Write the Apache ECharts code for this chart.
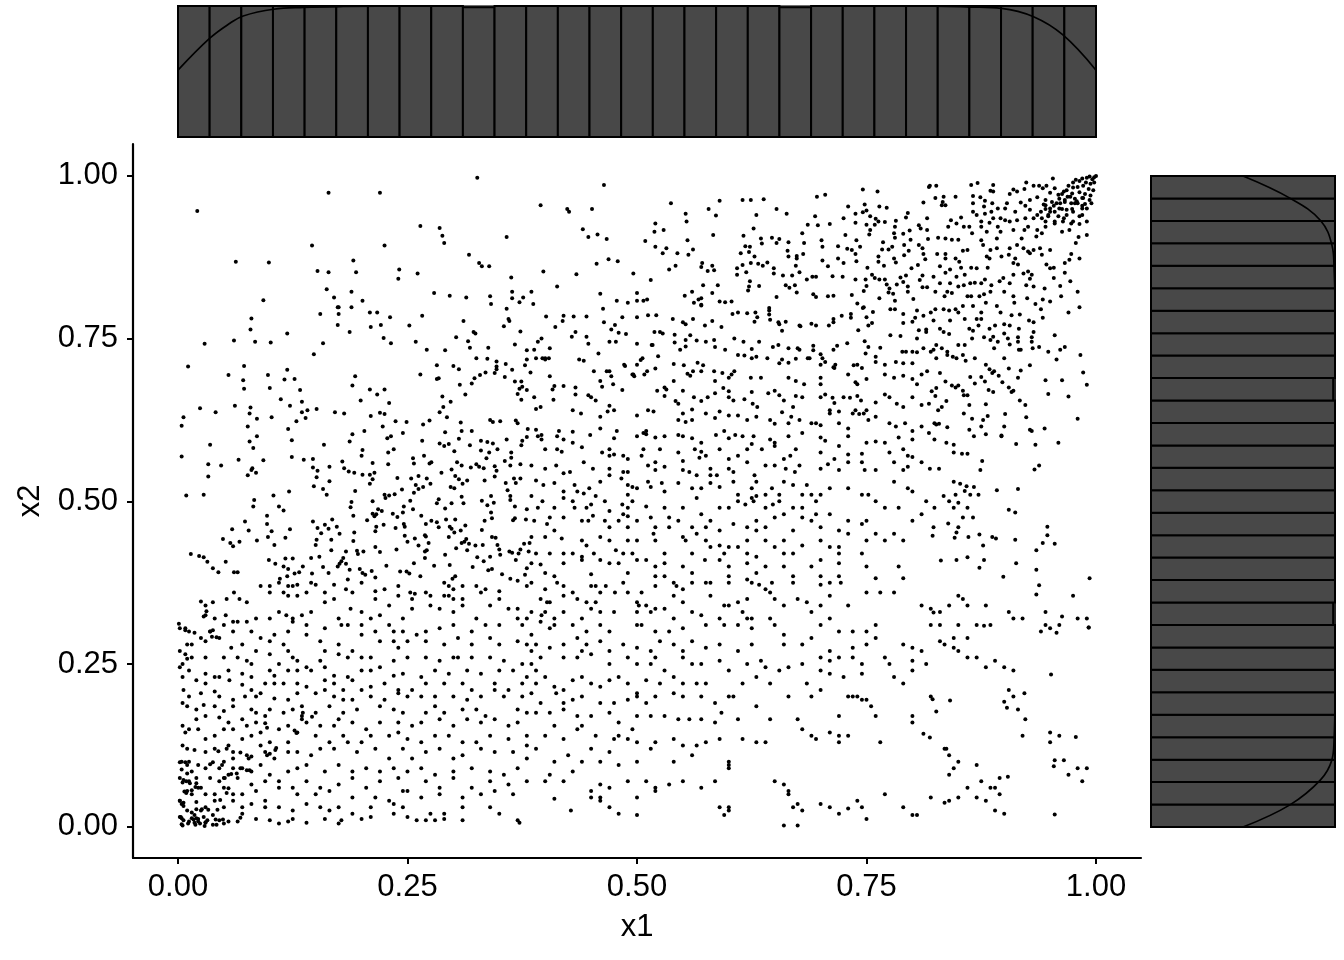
<!DOCTYPE html>
<html><head><meta charset="utf-8">
<script src="https://cdn.jsdelivr.net/npm/echarts@6/dist/echarts.min.js"></script>
<style>html,body{margin:0;padding:0;background:#fff}#c{width:1344px;height:960px}</style></head>
<body><div id="c"></div>
<script>
const tickValues=[0,0.25,0.5,0.75,1];
const binCountTop=[100,100,100,100,100,100,100,100,100,99,100,100,100,100,100,100,100,100,100,99,100,100,100,100,100,100,100,100,100];
const binCountRight=[100,100,100,100,100,100,100,100,100,99,100,100,100,100,100,100,100,100,100,99,100,100,100,100,100,100,100,100,100];
const densityTop=[[0,51],[0.035,75.6],[0.057,87],[0.071,92.4],[0.104,97.5],[0.137,98.9],[0.18,99.6],[0.25,100],[0.8,100],[0.863,99.2],[0.897,98.2],[0.932,91.8],[0.964,77.9],[1,51]];
const densityRight=[[50,0],[75.5,0.034],[92,0.072],[98.3,0.103],[99.5,0.134],[100,0.2],[100,0.8],[99.5,0.86],[98.4,0.893],[92,0.932],[75.5,0.966],[50,1]];
const pointsTop=[[.021,.946],[.164,.974],[.22,.974],[.326,.997],[.264,.923],[.285,.92],[.288,.908],[.29,.897],[.358,.906],[.146,.893],[.225,.893],[.063,.868],[.099,.867],[.191,.87],[.317,.879],[.328,.866],[.331,.861],[.339,.861],[.152,.854],[.164,.852],[.194,.852],[.241,.856],[.24,.842],[.261,.85],[.363,.844],[.162,.826],
[.464,.986],[.395,.955],[.424,.949],[.426,.945],[.451,.949],[.537,.958],[.553,.942],[.554,.93],[.578,.949],[.59,.962],[.586,.939],[.615,.963],[.624,.963],[.638,.964],[.652,.949],[.663,.942],[.63,.94],[.696,.968],[.705,.971],[.746,.979],[.762,.976],[.818,.983],[.73,.953],[.748,.956],[.812,.959],[.764,.953],[.772,.951],[.75,.947],[.746,.944],[.738,.942],[.725,.935],[.694,.938],[.754,.938],[.795,.943],[.793,.936],[.816,.935],[.76,.934],[.738,.928],[.763,.93],[.77,.929],[.782,.931],[.75,.925],[.759,.925],[.686,.925],[.697,.924],[.71,.926],[.781,.922],[.807,.924],[.809,.919],[.816,.917],[.754,.917],[.797,.916],[.78,.912],[.79,.911],[.753,.91],[.727,.909],[.781,.905],[.68,.912],[.441,.918],[.457,.91],[.447,.906],[.467,.903],[.52,.927],[.519,.914],[.529,.917],[.509,.9],[.555,.901],[.583,.909],[.616,.908],[.627,.919],[.635,.904],[.647,.905],[.655,.903],[.665,.898],[.652,.897],[.636,.896],[.682,.897],[.701,.901],[.702,.891],[.719,.892],[.739,.901],[.768,.898],[.798,.902],[.817,.903],[.52,.891],[.532,.889],[.528,.881],[.544,.881],[.561,.887],[.556,.879],[.618,.892],[.623,.891],[.613,.881],[.622,.883],[.628,.876],[.729,.888],[.734,.886],[.743,.891],[.767,.887],[.774,.887],[.778,.891],[.791,.894],[.796,.885],[.807,.894],[.811,.889],[.664,.885],[.665,.876],[.674,.877],[.674,.873],[.681,.88],[.738,.88],[.763,.876],[.791,.878],[.812,.88],[.814,.872],[.469,.872],[.479,.869],[.456,.865],[.702,.87],[.719,.873],[.725,.866],[.739,.869],[.763,.868],[.78,.873],[.782,.867],[.708,.861],[.769,.862],[.806,.863],[.799,.858],[.398,.853],[.434,.849],[.496,.85],[.515,.84],[.413,.83],[.542,.862],[.535,.856],[.571,.866],[.57,.86],[.577,.854],[.582,.862],[.584,.855],[.609,.858],[.609,.848],[.615,.863],[.624,.866],[.632,.865],[.637,.862],[.642,.867],[.649,.858],[.649,.85],[.619,.852],[.659,.847],[.669,.847],[.673,.862],[.677,.852],[.685,.841],[.691,.845],[.695,.845],[.713,.846],[.724,.845],[.751,.859],[.756,.848],[.759,.843],[.738,.841],[.749,.841],[.764,.841],[.77,.841],[.787,.844],[.793,.847],[.79,.837],[.811,.847],[.808,.84],[.572,.832],[.588,.832],[.623,.838],[.622,.83],[.633,.831],[.662,.832],[.666,.828],[.672,.832],[.75,.831],[.772,.833],[.783,.833],[.775,.827],[.795,.83],[.811,.829],[.816,.829],
[1,1],[.998,.998],[.996,.995],[.993,.999],[.99,.997],[.998,.99],[.994,.988],[.989,.99],[.985,.996],[.982,.992],[.978,.994],[.975,.99],[.986,.985],[.992,.98],[.997,.978],[.98,.983],[.975,.982],[.97,.985],[.968,.978],[.974,.973],[.982,.975],[.988,.972],[.994,.97],[.985,.966],[.977,.965],[.969,.968],[.963,.972],[.96,.965],[.966,.96],[.973,.958],[.98,.958],[.988,.957],[.957,.958],[.952,.96],[.96,.95],[.968,.948],[.99,.95],[.995,.958],[.975,.945],[.955,.945],[.95,.95],[.945,.955],[.948,.94],[.94,.945],[.985,.94],[.975,.93],[.965,.935],[.955,.93],[.99,.93],[.945,.93],
[.826,.985],[.819,.985],[.864,.986],[.871,.989],[.888,.986],[.924,.99],[.953,.996],[.932,.985],[.938,.985],[.888,.976],[.885,.977],[.906,.972],[.91,.979],[.914,.976],[.922,.98],[.942,.981],[.946,.985],[.955,.981],[.959,.971],[.965,.976],[.866,.969],[.874,.967],[.879,.962],[.847,.968],[.834,.968],[.825,.966],[.833,.96],[.832,.955],[.836,.955],[.887,.958],[.903,.958],[.918,.959],[.923,.954],[.928,.963],[.936,.967],[.945,.963],[.95,.974],[.972,.968],[.979,.961],[.986,.966],[.993,.963],[.985,.954],[.977,.958],[.966,.963],[.961,.958],[.954,.954],[.943,.956],[.866,.958],[.866,.945],[.87,.94],[.878,.953],[.879,.942],[.886,.945],[.893,.95],[.901,.95],[.912,.945],[.928,.948],[.936,.94],[.945,.949],[.95,.945],[.963,.949],[.974,.949],[.985,.95],[.968,.94],[.959,.938],[.948,.938],[.941,.935],[.932,.935],[.923,.935],[.914,.932],[.906,.93],[.901,.932],[.896,.935],[.888,.935],[.875,.93],[.853,.936],[.842,.932],[.884,.928],[.893,.922],[.926,.922],[.936,.917],[.945,.922],[.955,.927],[.964,.93],[.973,.927],[.982,.938],[.982,.926],[.848,.927],[.839,.922],[.856,.922],[.862,.922],[.875,.922],[.865,.912],[.881,.914],[.896,.914],[.91,.917],[.922,.917],[.941,.912],[.963,.914],[.971,.917],[.99,.909],[.981,.906],[.978,.897],[.828,.905],[.836,.904],[.843,.902],[.85,.902],[.875,.901],[.877,.894],[.892,.904],[.919,.904],[.935,.907],[.885,.886],[.892,.889],[.906,.889],[.914,.894],[.921,.889],[.926,.884],[.939,.889],[.941,.879],[.95,.886],[.855,.885],[.86,.886],[.836,.88],[.827,.88],[.847,.873],[.836,.873],[.851,.868],[.881,.876],[.884,.873],[.897,.876],[.905,.879],[.912,.873],[.91,.866],[.915,.864],[.928,.881],[.932,.886],[.946,.864],[.973,.88],[.982,.873],[.971,.871],[.966,.866],[.95,.858],[.954,.859],[.83,.861],[.841,.856],[.853,.859],[.864,.859],[.87,.858],[.882,.859],[.823,.845],[.836,.851],[.848,.845],[.857,.848],[.863,.835],[.868,.836],[.875,.835],[.879,.841],[.886,.832],[.895,.838],[.899,.843],[.906,.835],[.91,.848],[.921,.85],[.926,.853],[.93,.848],[.928,.842],[.924,.832],[.932,.83],[.944,.827],[.954,.843],[.961,.831],[.966,.851],[.972,.838],[.841,.835],[.83,.835],[.85,.83],[.856,.832]];
const pointsMiddle=[[.093,.809],[.08,.781],[.079,.764],[.029,.742],[.061,.747],[.084,.745],[.101,.744],[.119,.758],[.155,.788],[.17,.813],[.174,.798],[.175,.798],[.175,.788],[.189,.798],[.201,.808],[.189,.822],[.174,.771],[.187,.76],[.209,.79],[.217,.79],[.231,.783],[.221,.771],[.21,.768],[.224,.751],[.232,.743],[.252,.77],[.266,.785],[.259,.745],[.271,.733],[.291,.732],[.279,.82],[.296,.816],[.314,.813],[.34,.815],[.341,.803],[.364,.822],[.364,.812],[.372,.806],[.376,.813],[.358,.796],[.36,.78],[.361,.777],[.355,.769],[.311,.777],[.322,.76],[.324,.758],[.373,.761],[.303,.752],[.316,.746],[.318,.736],[.367,.741],[.338,.736],[.38,.732],[.148,.726],[.158,.743],[.011,.707],[.072,.708],[.055,.694],[.071,.686],[.072,.673],[.098,.694],[.1,.674],[.119,.702],[.116,.687],[.127,.688],[.133,.671],[.112,.657],[.135,.653],[.122,.647],[.135,.637],[.141,.64],[.151,.642],[.139,.628],[.129,.623],[.12,.611],[.124,.594],[.159,.587],[.124,.568],[.137,.564],[.325,.72],[.337,.719],[.347,.715],[.347,.707],[.347,.703],[.345,.697],[.357,.711],[.364,.702],[.378,.709],[.38,.718],[.335,.698],[.329,.694],[.323,.689],[.32,.681],[.307,.679],[.356,.691],[.367,.684],[.374,.684],[.375,.676],[.372,.673],[.38,.671],[.37,.665],[.374,.656],[.313,.664],[.282,.709],[.3,.708],[.306,.703],[.264,.695],[.284,.689],[.282,.688],[.193,.692],[.19,.678],[.209,.672],[.225,.672],[.217,.664],[.199,.655],[.23,.651],[.288,.661],[.297,.653],[.289,.645],[.285,.637],[.293,.629],[.024,.643],[.041,.637],[.062,.647],[.079,.644],[.078,.635],[.086,.627],[.102,.629],[.006,.629],[.004,.616],[.076,.615],[.086,.6],[.035,.587],[.078,.592],[.082,.582],[.004,.569],[.066,.564],[.093,.563],[.033,.557],[.047,.555],[.033,.538],[.081,.551],[.08,.548],[.085,.544],[.076,.54],[.171,.637],[.181,.635],[.21,.631],[.22,.636],[.225,.634],[.237,.623],[.249,.622],[.267,.618],[.274,.624],[.223,.615],[.245,.605],[.203,.608],[.19,.603],[.187,.592],[.232,.6],[.228,.597],[.266,.593],[.235,.58],[.229,.575],[.201,.579],[.2,.57],[.268,.57],[.256,.566],[.257,.558],[.229,.557],[.212,.559],[.34,.625],[.343,.622],[.351,.623],[.368,.624],[.37,.62],[.308,.621],[.309,.608],[.291,.606],[.32,.608],[.306,.596],[.381,.611],[.38,.599],[.375,.593],[.374,.586],[.358,.595],[.285,.589],[.29,.585],[.295,.588],[.318,.586],[.33,.593],[.337,.591],[.343,.589],[.348,.58],[.33,.578],[.339,.575],[.301,.577],[.363,.575],[.363,.567],[.336,.566],[.356,.562],[.373,.557],[.362,.555],[.147,.565],[.147,.552],[.152,.547],[.165,.553],[.179,.561],[.181,.551],[.186,.546],[.192,.544],[.201,.541],[.209,.541],[.214,.544],[.212,.534],[.209,.527],[.151,.537],[.165,.531],[.148,.523],[.158,.519],[.162,.51],[.193,.516],[.276,.56],[.274,.558],[.287,.544],[.298,.549],[.304,.56],[.309,.555],[.319,.552],[.325,.557],[.328,.553],[.333,.551],[.345,.554],[.347,.547],[.345,.538],[.302,.539],[.306,.534],[.31,.527],[.315,.532],[.334,.532],[.357,.528],[.366,.535],[.373,.535],[.368,.528],[.239,.536],[.254,.535],[.262,.539],[.271,.535],[.259,.525],[.275,.527],[.267,.522],[.262,.519],[.257,.513],[.244,.518],[.236,.511],[.23,.509],[.225,.51],[.226,.505],[.297,.522],[.301,.52],[.009,.509],[.028,.51],[.083,.502],[.104,.509],[.121,.515],[.082,.492],[.11,.492],[.115,.486],[.097,.478],[.073,.469],[.097,.465],[.059,.457],[.077,.455],[.102,.454],[.122,.457],[.098,.445],[.117,.444],[.049,.442],[.057,.436],[.067,.438],[.06,.431],[.086,.44],[.105,.433],[.014,.419],[.023,.416],[.028,.414],[.032,.407],[.052,.407],[.038,.397],[.044,.391],[.061,.391],[.065,.391],[.099,.41],[.106,.404],[.117,.412],[.125,.412],[.115,.4],[.12,.396],[.136,.4],[.145,.413],[.154,.415],[.127,.389],[.132,.391],[.146,.389],[.158,.399],[.164,.39],[.119,.385],[.111,.381],[.189,.499],[.188,.491],[.212,.5],[.191,.478],[.206,.471],[.212,.481],[.216,.48],[.218,.488],[.222,.485],[.214,.477],[.234,.481],[.239,.476],[.245,.483],[.246,.492],[.253,.501],[.256,.488],[.265,.478],[.27,.465],[.276,.47],[.282,.468],[.282,.497],[.284,.503],[.291,.489],[.298,.497],[.309,.507],[.311,.497],[.331,.501],[.341,.508],[.344,.498],[.337,.494],[.341,.483],[.342,.474],[.334,.47],[.362,.502],[.362,.508],[.359,.517],[.367,.492],[.38,.488],[.367,.474],[.365,.471],[.379,.472],[.147,.469],[.16,.464],[.168,.472],[.173,.461],[.164,.458],[.152,.459],[.156,.451],[.176,.45],[.151,.441],[.167,.441],[.15,.433],[.192,.452],[.191,.439],[.167,.425],[.183,.423],[.195,.424],[.202,.423],[.196,.419],[.215,.43],[.22,.422],[.238,.426],[.215,.454],[.216,.461],[.224,.464],[.237,.459],[.246,.465],[.247,.461],[.247,.447],[.258,.443],[.269,.448],[.27,.446],[.273,.436],[.25,.438],[.262,.432],[.271,.425],[.269,.423],[.269,.413],[.291,.418],[.292,.472],[.302,.472],[.296,.461],[.298,.458],[.301,.452],[.308,.455],[.313,.463],[.284,.46],[.295,.445],[.312,.438],[.309,.436],[.314,.442],[.317,.435],[.324,.432],[.303,.428],[.315,.425],[.332,.433],[.331,.456],[.342,.445],[.346,.444],[.348,.433],[.35,.426],[.351,.418],[.361,.423],[.364,.421],[.373,.426],[.371,.42],[.377,.435],[.383,.436],[.382,.423],[.326,.414],[.34,.415],[.333,.408],[.368,.41],[.321,.399],[.338,.394],[.342,.396],[.353,.388],[.362,.381],[.38,.397],[.378,.387],[.18,.413],[.178,.408],[.176,.404],[.174,.4],[.183,.404],[.187,.395],[.198,.396],[.201,.39],[.204,.387],[.211,.393],[.215,.383],[.227,.401],[.242,.392],[.249,.392],[.252,.389],[.257,.405],[.264,.385],[.279,.401],[.296,.402],[.302,.385],[.299,.381],
[.385,.822],[.387,.803],[.401,.784],[.42,.785],[.431,.784],[.445,.784],[.411,.768],[.429,.753],[.433,.76],[.445,.753],[.396,.75],[.392,.745],[.447,.742],[.458,.727],[.405,.735],[.437,.718],[.388,.733],[.39,.72],[.404,.72],[.4,.72],[.46,.819],[.5,.82],[.552,.816],[.56,.822],[.582,.82],[.621,.824],[.652,.814],[.674,.821],[.692,.818],[.695,.814],[.708,.815],[.714,.816],[.734,.817],[.747,.823],[.764,.812],[.774,.821],[.779,.819],[.795,.822],[.801,.811],[.478,.808],[.49,.805],[.5,.808],[.507,.808],[.511,.81],[.562,.805],[.567,.81],[.57,.802],[.57,.812],[.57,.801],[.59,.807],[.596,.806],[.603,.807],[.463,.796],[.5,.783],[.484,.783],[.512,.786],[.521,.786],[.539,.78],[.55,.775],[.553,.772],[.561,.78],[.574,.77],[.582,.777],[.592,.768],[.604,.788],[.62,.789],[.61,.79],[.628,.776],[.631,.783],[.629,.79],[.645,.779],[.644,.797],[.644,.793],[.644,.787],[.654,.775],[.662,.776],[.655,.772],[.658,.762],[.678,.769],[.677,.77],[.69,.773],[.695,.77],[.714,.78],[.714,.775],[.709,.77],[.723,.785],[.733,.788],[.733,.782],[.741,.763],[.75,.783],[.756,.774],[.746,.797],[.74,.804],[.747,.798],[.752,.77],[.776,.795],[.781,.795],[.757,.791],[.781,.808],[.79,.788],[.805,.793],[.803,.782],[.812,.785],[.79,.774],[.8,.776],[.807,.763],[.815,.764],[.805,.75],[.815,.76],[.419,.777],[.464,.775],[.476,.771],[.48,.759],[.488,.757],[.472,.764],[.477,.745],[.47,.745],[.519,.76],[.525,.76],[.528,.758],[.541,.756],[.541,.744],[.516,.74],[.517,.74],[.553,.748],[.558,.755],[.565,.747],[.575,.745],[.584,.748],[.5,.742],[.506,.72],[.487,.708],[.523,.723],[.547,.733],[.553,.738],[.585,.737],[.596,.733],[.606,.75],[.616,.745],[.625,.734],[.633,.745],[.648,.737],[.654,.74],[.665,.735],[.675,.735],[.677,.733],[.692,.739],[.692,.732],[.7,.726],[.714,.733],[.718,.739],[.729,.743],[.748,.746],[.752,.737],[.765,.736],[.749,.727],[.76,.722],[.776,.755],[.787,.754],[.789,.73],[.793,.73],[.805,.729],[.812,.735],[.8,.73],[.61,.725],[.617,.724],[.625,.72],[.63,.722],[.642,.72],[.658,.718],[.655,.712],[.665,.713],[.673,.719],[.688,.72],[.686,.72],[.702,.72],[.7,.71],[.705,.714],[.714,.706],[.716,.71],[.715,.705],[.736,.709],[.745,.705],[.74,.71],[.76,.714],[.77,.71],[.782,.714],[.79,.712],[.8,.712],[.397,.72],[.442,.716],[.4,.718],[.47,.7],[.486,.71],[.504,.717],[.453,.7],[.467,.7],[.5,.71],[.54,.711],[.551,.709],[.566,.713],[.572,.709],[.57,.7],[.584,.7],[.606,.7],[.593,.697],[.603,.695],[.561,.7],[.558,.693],[.52,.704],[.495,.695],[.472,.692],[.497,.692],[.511,.7],[.508,.695],[.496,.695],[.405,.692],[.384,.698],[.46,.685],[.474,.68],[.54,.685],[.555,.696],[.585,.685],[.6,.69],[.624,.69],[.665,.69],[.635,.69],[.7,.69],[.682,.68],[.673,.685],[.7,.68],[.74,.68],[.75,.688],[.78,.69],[.79,.693],[.8,.688],[.805,.68],[.77,.695],[.81,.695],[.816,.7],[.738,.683],[.73,.695],[.433,.675],[.41,.677],[.408,.672],[.42,.677],[.433,.664],[.447,.663],[.462,.676],[.484,.671],[.53,.675],[.522,.67],[.532,.672],[.55,.67],[.53,.662],[.542,.654],[.562,.66],[.577,.66],[.585,.666],[.594,.674],[.6,.669],[.6,.66],[.57,.654],[.625,.668],[.65,.67],[.655,.663],[.617,.657],[.605,.655],[.626,.65],[.631,.645],[.643,.666],[.66,.655],[.673,.662],[.67,.645],[.68,.66],[.7,.66],[.705,.664],[.713,.659],[.725,.66],[.715,.651],[.71,.64],[.71,.635],[.72,.638],[.732,.659],[.74,.662],[.744,.655],[.738,.64],[.742,.634],[.75,.64],[.76,.652],[.77,.664],[.775,.66],[.783,.65],[.79,.645],[.8,.66],[.81,.648],[.818,.65],[.388,.66],[.395,.645],[.39,.642],[.409,.656],[.43,.64],[.439,.635],[.45,.66],[.455,.655],[.47,.647],[.475,.64],[.468,.638],[.46,.63],[.5,.632],[.512,.64],[.518,.638],[.545,.65],[.55,.635],[.56,.641],[.545,.625],[.553,.622],[.56,.625],[.575,.635],[.59,.638],[.585,.628],[.6,.632],[.61,.632],[.62,.625],[.63,.63],[.658,.637],[.645,.625],[.65,.619],[.668,.63],[.665,.62],[.677,.625],[.69,.62],[.695,.62],[.7,.617],[.72,.62],[.73,.612],[.735,.635],[.747,.635],[.752,.625],[.76,.63],[.775,.62],[.782,.615],[.792,.62],[.8,.608],[.81,.615],[.818,.605],[.39,.61],[.392,.6],[.396,.602],[.396,.595],[.415,.608],[.413,.6],[.42,.595],[.43,.607],[.449,.602],[.46,.612],[.475,.597],[.478,.608],[.5,.6],[.507,.605],[.51,.608],[.51,.603],[.53,.6],[.525,.58],[.52,.598],[.545,.602],[.55,.6],[.56,.597],[.57,.59],[.595,.608],[.586,.602],[.6,.597],[.607,.602],[.615,.6],[.627,.6],[.625,.588],[.645,.595],[.65,.59],[.665,.6],[.673,.58],[.68,.605],[.7,.598],[.705,.593],[.72,.585],[.73,.6],[.75,.59],[.76,.592],[.77,.59],[.785,.598],[.79,.58],[.8,.595],[.4,.58],[.413,.58],[.418,.576],[.43,.59],[.44,.583],[.462,.575],[.47,.58],[.47,.57],[.475,.572],[.485,.57],[.49,.565],[.507,.58],[.505,.57],[.52,.56],[.545,.575],[.563,.58],[.57,.576],[.568,.567],[.575,.57],[.59,.58],[.61,.57],[.6,.565],[.62,.58],[.636,.58],[.65,.585],[.667,.57],[.66,.565],[.7,.575],[.715,.565],[.73,.572],[.73,.56],[.745,.573],[.775,.575],[.78,.56],[.795,.57],[.8,.568],[.81,.56],[.385,.555],[.4,.55],[.412,.555],[.42,.543],[.427,.545],[.442,.56],[.452,.55],[.47,.55],[.485,.545],[.49,.545],[.512,.555],[.52,.548],[.53,.553],[.55,.562],[.55,.548],[.557,.545],[.565,.54],[.58,.54],[.58,.55],[.587,.54],[.6,.55],[.605,.545],[.62,.56],[.628,.54],[.64,.555],[.65,.555],[.662,.55],[.672,.545],[.677,.555],[.7,.55],[.708,.557],[.72,.548],[.745,.56],[.748,.548],[.76,.548],[.79,.548],[.795,.553],[.398,.525],[.39,.532],[.41,.528],[.42,.515],[.432,.525],[.435,.515],[.442,.512],[.448,.52],[.455,.508],[.46,.53],[.47,.54],[.483,.535],[.49,.525],[.49,.51],[.495,.522],[.5,.52],[.512,.53],[.515,.522],[.527,.528],[.53,.515],[.545,.528],[.56,.52],[.57,.52],[.58,.528],[.59,.522],[.605,.53],[.61,.51],[.625,.52],[.63,.53],[.63,.508],[.625,.505],[.64,.51],[.647,.52],[.655,.51],[.66,.53],[.67,.525],[.68,.51],[.685,.525],[.69,.51],[.7,.51],[.71,.52],[.73,.52],[.745,.51],[.752,.51],[.78,.53],[.795,.52],[.8,.515],[.385,.508],[.397,.5],[.392,.49],[.41,.49],[.42,.505],[.43,.5],[.432,.49],[.445,.49],[.45,.495],[.465,.5],[.47,.485],[.484,.495],[.49,.49],[.495,.5],[.485,.48],[.49,.477],[.51,.492],[.53,.49],[.55,.49],[.565,.505],[.57,.48],[.58,.47],[.59,.49],[.6,.49],[.61,.5],[.618,.495],[.627,.5],[.64,.49],[.648,.495],[.655,.5],[.67,.49],[.68,.49],[.68,.475],[.695,.5],[.71,.48],[.73,.47],[.745,.465],[.75,.47],[.76,.5],[.77,.49],[.785,.49],[.8,.47],[.81,.48],[.815,.5],[.388,.47],[.402,.465],[.405,.475],[.42,.475],[.44,.47],[.447,.47],[.452,.478],[.465,.47],[.47,.46],[.48,.47],[.49,.46],[.5,.47],[.515,.475],[.52,.46],[.535,.475],[.535,.46],[.545,.47],[.56,.46],[.565,.45],[.575,.46],[.59,.455],[.605,.465],[.62,.46],[.63,.47],[.63,.455],[.64,.46],[.65,.475],[.66,.48],[.67,.455],[.69,.47],[.7,.46],[.695,.48],[.72,.455],[.73,.45],[.77,.44],[.78,.45],[.385,.445],[.4,.445],[.41,.455],[.418,.443],[.44,.44],[.445,.432],[.46,.445],[.47,.44],[.49,.44],[.5,.44],[.518,.45],[.52,.44],[.55,.445],[.553,.44],[.575,.44],[.58,.43],[.59,.432],[.6,.43],[.62,.44],[.64,.44],[.66,.44],[.68,.432],[.7,.44],[.71,.43],[.72,.43],[.75,.44],[.76,.45],[.79,.44],[.39,.42],[.405,.42],[.42,.42],[.43,.42],[.44,.415],[.453,.42],[.46,.41],[.477,.425],[.485,.42],[.495,.42],[.5,.41],[.53,.42],[.56,.42],[.574,.41],[.595,.42],[.61,.43],[.62,.42],[.63,.415],[.65,.43],[.66,.42],[.67,.42],[.7,.41],[.72,.42],[.745,.42],[.385,.405],[.395,.403],[.42,.405],[.44,.41],[.47,.405],[.48,.405],[.51,.41],[.52,.4],[.53,.405],[.55,.4],[.59,.41],[.6,.4],[.62,.405],[.64,.4],[.66,.4],[.69,.4],[.72,.405],[.75,.4],[.785,.4],[.4,.39],[.41,.385],[.45,.388],[.49,.39],[.52,.385],[.53,.385],[.56,.39],[.6,.385],[.63,.39],[.67,.385],[.7,.385],[.72,.385],[.76,.382],[.79,.382],
[.825,.822],[.838,.822],[.835,.815],[.843,.82],[.86,.815],[.864,.815],[.873,.815],[.878,.818],[.885,.822],[.9,.822],[.911,.805],[.91,.815],[.925,.812],[.934,.803],[.942,.81],[.95,.807],[.962,.815],[.98,.822],[.982,.798],[.97,.79],[.847,.795],[.82,.79],[.825,.795],[.834,.795],[.84,.793],[.85,.79],[.855,.8],[.866,.8],[.875,.79],[.88,.805],[.892,.8],[.896,.79],[.908,.786],[.917,.787],[.927,.778],[.942,.782],[.94,.795],[.823,.778],[.841,.778],[.857,.78],[.87,.78],[.875,.78],[.866,.762],[.872,.77],[.89,.77],[.9,.772],[.906,.77],[.9,.758],[.916,.765],[.932,.775],[.932,.76],[.955,.755],[.83,.765],[.834,.76],[.84,.757],[.862,.765],[.878,.752],[.884,.765],[.888,.753],[.904,.75],[.915,.752],[.93,.752],[.915,.745],[.93,.745],[.826,.74],[.832,.735],[.838,.73],[.85,.74],[.857,.74],[.855,.725],[.865,.75],[.885,.748],[.893,.745],[.906,.741],[.889,.735],[.82,.73],[.823,.733],[.826,.72],[.838,.725],[.844,.722],[.848,.72],[.858,.716],[.868,.72],[.9,.72],[.916,.733],[.918,.733],[.931,.735],[.938,.737],[.948,.73],[.961,.733],[.966,.737],[.957,.718],[.983,.725],[.88,.71],[.884,.703],[.889,.7],[.887,.697],[.905,.704],[.918,.701],[.928,.709],[.986,.698],[.83,.697],[.836,.684],[.843,.678],[.85,.678],[.847,.675],[.863,.691],[.875,.691],[.879,.684],[.894,.693],[.898,.683],[.905,.675],[.915,.69],[.945,.686],[.963,.686],[.99,.679],[.821,.669],[.826,.674],[.855,.67],[.856,.663],[.86,.663],[.868,.681],[.883,.671],[.888,.668],[.908,.668],[.91,.67],[.948,.665],[.97,.661],[.825,.662],[.837,.654],[.832,.645],[.828,.64],[.862,.648],[.88,.649],[.917,.655],[.923,.648],[.856,.635],[.865,.627],[.877,.625],[.882,.631],[.901,.634],[.924,.629],[.824,.62],[.826,.618],[.829,.619],[.838,.614],[.867,.6],[.897,.6],[.88,.603],[.875,.615],[.862,.61],[.9,.615],[.928,.61],[.93,.608],[.944,.612],[.98,.627],[.824,.595],[.837,.59],[.845,.587],[.854,.573],[.897,.601],[.913,.588],[.959,.59],[.934,.587],[.86,.573],[.845,.575],[.876,.562],[.829,.55],[.845,.53],[.819,.55],[.852,.527],[.859,.523],[.867,.522],[.874,.548],[.892,.517],[.915,.519],[.933,.549],[.938,.555],[.857,.516],[.834,.508],[.84,.5],[.847,.51],[.85,.498],[.863,.51],[.872,.51],[.86,.49],[.824,.49],[.845,.49],[.823,.46],[.855,.475],[.866,.475],[.85,.46],[.861,.445],[.905,.487],[.912,.483],[.947,.461],[.947,.448],[.942,.436],[.955,.435],[.891,.443],[.887,.445],[.912,.441],[.873,.449],[.839,.466],[.848,.452],[.846,.444],[.822,.447],[.877,.432],[.935,.425],[.848,.41],[.831,.409],[.86,.414],[.878,.41],[.913,.405],[.935,.395],[.873,.398],[.899,.384],[.938,.371],[.993,.382]];
const pointsLow=[[.001,.312],[.008,.305],[.025,.346],[.075,.345],[.03,.34],[.038,.345],[.053,.35],[.09,.37],[.061,.36],[.067,.35],[.1,.37],[.11,.375],[.12,.37],[.125,.37],[.13,.372],[.145,.375],[.15,.372],[.17,.372],[.185,.38],[.2,.375],[.215,.362],[.225,.365],[.24,.37],[.253,.36],[.258,.358],[.27,.36],[.29,.375],[.295,.37],[.3,.365],[.31,.37],[.325,.37],[.335,.365],[.35,.362],[.37,.378],[.38,.37],[.1,.36],[.115,.36],[.12,.355],[.13,.355],[.14,.36],[.16,.36],[.17,.35],[.183,.365],[.19,.36],[.215,.35],[.24,.355],[.255,.35],[.275,.355],[.29,.355],[.295,.355],[.3,.35],[.31,.35],[.33,.36],[.35,.35],[.03,.325],[.04,.32],[.052,.325],[.06,.315],[.065,.315],[.075,.315],[.085,.32],[.1,.32],[.11,.33],[.118,.325],[.125,.32],[.135,.325],[.145,.33],[.16,.345],[.175,.32],[.188,.335],[.2,.33],[.22,.325],[.23,.34],[.245,.32],[.255,.335],[.275,.34],[.285,.335],[.3,.33],[.31,.34],[.325,.32],[.34,.34],[.36,.335],[.37,.335],[.38,.32],[.05,.31],[.06,.3],[.08,.3],[.09,.29],[.105,.295],[.12,.3],[.125,.315],[.14,.31],[.16,.305],[.178,.31],[.185,.31],[.2,.31],[.21,.32],[.23,.31],[.235,.3],[.245,.3],[.27,.3],[.285,.305],[.3,.31],[.32,.3],[.335,.31],[.35,.31],[.37,.32],[.375,.31],[.002,.305],[.008,.302],[.012,.3],[.018,.298],[.035,.3],[.045,.29],[.03,.285],[.025,.29],[.01,.28],[.015,.28],[.07,.28],[.085,.27],[.1,.285],[.115,.28],[.12,.27],[.14,.295],[.155,.285],[.16,.27],[.175,.28],[.19,.27],[.2,.295],[.215,.3],[.22,.285],[.235,.285],[.24,.275],[.25,.285],[.26,.295],[.27,.285],[.29,.28],[.305,.29],[.32,.28],[.34,.29],[.35,.28],[.37,.285],[.38,.28],[.002,.27],[.008,.265],[.01,.258],[.015,.26],[.005,.25],[.03,.26],[.05,.26],[.058,.275],[.065,.26],[.075,.255],[.08,.25],[.1,.265],[.11,.25],[.125,.26],[.13,.255],[.14,.245],[.155,.255],[.175,.265],[.185,.26],[.2,.26],[.21,.26],[.235,.255],[.25,.26],[.27,.26],[.285,.255],[.3,.26],[.305,.26],[.32,.26],[.34,.26],[.355,.255],[.375,.25],[.002,.245],[.012,.24],[.005,.23],[.03,.235],[.045,.23],[.055,.24],[.07,.235],[.08,.23],[.1,.24],[.105,.232],[.12,.24],[.13,.24],[.145,.24],[.16,.245],[.17,.232],[.185,.23],[.2,.24],[.21,.24],[.22,.245],[.235,.232],[.245,.235],[.265,.23],[.28,.24],[.295,.235],[.315,.24],[.33,.235],[.35,.24],[.365,.24],[.38,.23],[.02,.225],[.03,.22],[.04,.23],[.056,.225],[.07,.218],[.08,.21],[.095,.22],[.105,.22],[.115,.22],[.13,.22],[.14,.215],[.16,.225],[.17,.22],[.18,.21],[.19,.225],[.21,.215],[.225,.22],[.24,.21],[.255,.21],[.27,.22],[.29,.22],[.31,.22],[.32,.21],[.345,.22],[.36,.21],[.375,.22],[.006,.21],[.012,.2],[.025,.205],[.04,.208],[.045,.2],[.06,.195],[.073,.2],[.085,.2],[.09,.205],[.105,.197],[.12,.195],[.13,.205],[.15,.205],[.16,.21],[.17,.2],[.18,.195],[.19,.195],[.2,.21],[.21,.2],[.225,.195],[.24,.205],[.25,.2],[.265,.2],[.28,.2],[.3,.2],[.315,.195],[.33,.2],[.345,.21],[.355,.2],[.375,.2],[.005,.19],[.01,.185],[.02,.18],[.028,.187],[.04,.185],[.05,.178],[.06,.185],[.08,.18],[.085,.175],[.1,.18],[.115,.175],[.125,.18],[.135,.185],[.15,.175],[.165,.185],[.18,.175],[.195,.18],[.22,.185],[.235,.18],[.245,.175],[.27,.175],[.28,.185],[.29,.175],[.31,.18],[.325,.18],[.335,.17],[.37,.18],[.38,.175],[.02,.165],[.03,.17],[.045,.168],[.055,.16],[.07,.165],[.075,.155],[.085,.16],[.095,.17],[.11,.15],[.12,.155],[.135,.165],[.14,.16],[.155,.155],[.17,.155],[.175,.165],[.19,.16],[.205,.15],[.22,.16],[.24,.16],[.255,.155],[.265,.16],[.285,.165],[.3,.155],[.315,.165],[.33,.16],[.345,.165],[.36,.155],[.37,.16],[.005,.155],[.012,.15],[.008,.145],[.022,.15],[.03,.135],[.04,.14],[.05,.15],[.06,.15],[.07,.135],[.08,.14],[.09,.145],[.1,.13],[.12,.13],[.13,.145],[.15,.14],[.165,.13],[.18,.14],[.185,.13],[.2,.13],[.21,.14],[.23,.14],[.24,.145],[.25,.135],[.265,.13],[.28,.14],[.295,.14],[.31,.13],[.325,.13],[.34,.14],[.36,.135],[.38,.14],[.005,.125],[.01,.12],[.018,.118],[.03,.115],[.04,.12],[.055,.125],[.06,.115],[.075,.11],[.09,.125],[.095,.115],[.105,.105],[.12,.115],[.13,.115],[.145,.11],[.155,.12],[.17,.12],[.195,.115],[.215,.12],[.23,.105],[.245,.12],[.255,.105],[.27,.115],[.285,.12],[.3,.105],[.31,.11],[.33,.12],[.345,.115],[.365,.115],[.38,.105],[.004,.1],[.01,.095],[.015,.085],[.022,.095],[.03,.09],[.045,.09],[.05,.1],[.06,.09],[.07,.09],[.08,.085],[.09,.095],[.1,.08],[.12,.085],[.13,.09],[.14,.095],[.16,.085],[.175,.095],[.19,.085],[.205,.09],[.22,.085],[.235,.09],[.25,.085],[.265,.09],[.28,.08],[.3,.085],[.32,.09],[.34,.085],[.355,.08],[.37,.09],[.002,.075],[.005,.068],[.012,.07],[.02,.075],[.025,.06],[.035,.075],[.045,.07],[.05,.075],[.065,.075],[.08,.065],[.095,.07],[.11,.07],[.125,.06],[.14,.07],[.155,.06],[.175,.065],[.19,.075],[.205,.06],[.22,.07],[.24,.075],[.25,.055],[.27,.07],[.285,.06],[.3,.075],[.32,.06],[.34,.07],[.36,.065],[.38,.07],[.01,.055],[.015,.05],[.022,.06],[.03,.05],[.04,.05],[.05,.06],[.06,.05],[.07,.05],[.085,.055],[.095,.04],[.11,.06],[.13,.05],[.15,.05],[.165,.055],[.19,.045],[.215,.045],[.23,.04],[.245,.055],[.265,.045],[.285,.05],[.31,.045],[.33,.05],[.345,.055],[.365,.05],[.002,.04],[.004,.035],[.006,.032],[.02,.038],[.03,.03],[.04,.04],[.05,.03],[.06,.04],[.07,.03],[.08,.035],[.095,.03],[.11,.03],[.125,.025],[.14,.035],[.155,.03],[.165,.025],[.175,.03],[.21,.03],[.235,.035],[.245,.03],[.275,.02],[.29,.02],[.31,.03],[.34,.03],[.35,.02],[.01,.025],[.015,.022],[.018,.018],[.022,.012],[.025,.025],[.028,.015],[.032,.01],[.038,.018],[.045,.01],[.006,.01],[.003,.015],[.004,.004],[.012,.008],[.018,.006],[.024,.005],[.03,.006],[.042,.003],[.05,.005],[.055,.008],[.068,.014],[.065,.008],[.07,.02],[.085,.012],[.1,.01],[.11,.005],[.12,.008],[.125,.012],[.14,.006],[.16,.012],[.175,.005],[.178,.01],[.19,.02],[.2,.012],[.21,.015],[.235,.02],[.25,.015],[.26,.01],[.27,.01],[.28,.01],[.29,.012],[.31,.01],[.37,.01],[.372,.006],
[.385,.375],[.4,.365],[.395,.35],[.405,.345],[.413,.375],[.42,.37],[.43,.36],[.42,.355],[.45,.37],[.455,.37],[.466,.37],[.46,.36],[.476,.36],[.485,.375],[.49,.36],[.505,.36],[.52,.37],[.54,.375],[.543,.37],[.55,.365],[.56,.375],[.575,.375],[.58,.375],[.6,.375],[.62,.38],[.625,.375],[.633,.372],[.647,.375],[.67,.375],[.64,.365],[.645,.36],[.675,.35],[.685,.345],[.62,.35],[.65,.35],[.61,.345],[.7,.372],[.71,.375],[.722,.375],[.73,.34],[.402,.345],[.445,.345],[.45,.335],[.455,.345],[.5,.345],[.502,.34],[.52,.335],[.54,.355],[.55,.345],[.58,.355],[.595,.34],[.6,.34],[.615,.33],[.625,.32],[.66,.34],[.71,.355],[.75,.36],[.765,.36],[.78,.36],[.85,.355],[.855,.35],[.935,.357],[.975,.355],[.385,.33],[.4,.33],[.396,.325],[.41,.32],[.42,.33],[.435,.35],[.44,.32],[.46,.33],[.475,.33],[.5,.33],[.5,.31],[.51,.34],[.515,.33],[.53,.335],[.54,.32],[.56,.33],[.57,.325],[.59,.32],[.62,.32],[.645,.32],[.69,.33],[.7,.34],[.71,.32],[.75,.3],[.76,.31],[.395,.315],[.41,.31],[.405,.305],[.43,.31],[.445,.3],[.46,.31],[.47,.3],[.505,.31],[.52,.3],[.535,.3],[.55,.305],[.575,.31],[.595,.31],[.61,.31],[.625,.305],[.65,.31],[.66,.295],[.7,.31],[.72,.3],[.735,.3],[.735,.275],[.75,.28],[.76,.29],[.79,.28],[.8,.275],[.385,.295],[.39,.28],[.385,.27],[.405,.275],[.42,.28],[.435,.29],[.44,.27],[.445,.28],[.46,.285],[.47,.27],[.485,.28],[.5,.275],[.515,.27],[.525,.285],[.54,.28],[.55,.27],[.56,.285],[.575,.275],[.59,.28],[.61,.27],[.625,.28],[.66,.28],[.68,.28],[.69,.29],[.71,.27],[.72,.26],[.735,.26],[.745,.25],[.77,.26],[.775,.25],[.385,.25],[.395,.26],[.39,.24],[.42,.26],[.435,.26],[.45,.265],[.47,.25],[.49,.26],[.5,.25],[.515,.25],[.52,.26],[.53,.24],[.55,.26],[.56,.25],[.57,.25],[.59,.255],[.62,.25],[.635,.255],[.64,.245],[.655,.24],[.665,.245],[.68,.25],[.685,.22],[.7,.26],[.71,.255],[.7,.24],[.71,.235],[.725,.23],[.745,.235],[.78,.23],[.79,.22],[.39,.22],[.4,.23],[.41,.215],[.42,.21],[.43,.225],[.44,.23],[.45,.22],[.46,.215],[.47,.225],[.48,.23],[.49,.22],[.5,.205],[.51,.225],[.525,.22],[.54,.23],[.55,.22],[.565,.22],[.575,.22],[.6,.24],[.605,.2],[.615,.22],[.63,.23],[.645,.22],[.665,.2],[.69,.2],[.7,.21],[.73,.2],[.735,.2],[.74,.2],[.385,.205],[.395,.19],[.412,.205],[.42,.19],[.43,.195],[.44,.2],[.46,.19],[.475,.19],[.49,.195],[.5,.2],[.51,.19],[.52,.2],[.54,.205],[.55,.2],[.57,.2],[.585,.19],[.6,.2],[.61,.165],[.63,.185],[.645,.165],[.675,.165],[.68,.15],[.69,.14],[.695,.135],[.72,.14],[.72,.13],[.76,.17],[.765,.13],[.39,.175],[.405,.175],[.42,.18],[.435,.17],[.45,.17],[.47,.175],[.48,.16],[.495,.15],[.5,.17],[.515,.17],[.53,.17],[.545,.165],[.557,.165],[.57,.165],[.585,.16],[.592,.175],[.41,.155],[.42,.135],[.435,.15],[.44,.155],[.455,.14],[.475,.135],[.48,.14],[.49,.135],[.5,.13],[.52,.13],[.54,.135],[.55,.125],[.575,.13],[.59,.135],[.615,.135],[.63,.13],[.64,.13],[.38,.125],[.39,.12],[.4,.14],[.41,.1],[.425,.11],[.44,.1],[.45,.12],[.46,.1],[.47,.115],[.48,.095],[.5,.1],[.515,.12],[.54,.1],[.56,.11],[.565,.125],[.57,.06],[.585,.07],[.6,.09],[.6,.095],[.6,.1],[.405,.08],[.4,.07],[.42,.07],[.43,.085],[.45,.055],[.46,.065],[.47,.06],[.49,.07],[.5,.045],[.51,.07],[.52,.06],[.535,.065],[.55,.07],[.59,.03],[.6,.025],[.595,.018],[.41,.043],[.428,.025],[.45,.045],[.46,.045],[.46,.04],[.47,.03],[.48,.02],[.5,.018],[.52,.055],[.6,.03],[.65,.07],[.66,.065],[.665,.055],[.665,.05],[.675,.035],[.67,.03],[.68,.025],[.66,.002],[.675,.002],[.7,.035],[.71,.03],[.72,.02],[.73,.028],[.74,.04],[.75,.012],[.745,.03],[.77,.05],[.79,.03],[.8,.018],[.805,.018],[.82,.045],[.835,.037],[.84,.04],[.85,.045],[.86,.06],[.87,.045],[.88,.04],[.89,.025],[.9,.02],[.73,.14],[.71,.145],[.72,.17],[.75,.195],[.745,.195],[.755,.185],[.8,.17],[.8,.16],[.812,.143],[.82,.2],[.822,.196],[.835,.12],[.837,.12],[.84,.11],[.845,.09],[.85,.1],[.87,.095],[.875,.07],[.885,.06],[.89,.06],[.895,.05],[.895,.075],[.905,.21],[.91,.2],[.915,.18],[.923,.165],[.92,.14],[.95,.145],[.95,.13],[.955,.102],[.965,.102],[.97,.08],[.98,.09],[.99,.09],[.96,.14],[.978,.138],[.985,.07],[.8,.24],[.815,.25],[.8,.255],[.81,.27],[.83,.285],[.835,.28],[.845,.275],[.85,.27],[.86,.26],[.87,.26],[.88,.245],[.89,.255],[.9,.245],[.91,.24],[.86,.29],[.845,.29],[.82,.31],[.83,.31],[.885,.31],[.85,.31],[.87,.31],[.905,.33],[.91,.32],[.92,.32],[.94,.3],[.945,.31],[.95,.305],[.96,.31],[.98,.32],[.99,.32],[.82,.335],[.83,.33],[.84,.34],[.86,.34],[.88,.34],[.81,.34],[.945,.33],
[.823,.329],[.878,.309],[.963,.323],[.957,.298],[.992,.306],[.951,.234],[.841,.194],[.9,.192],[.922,.205],[.826,.177],[.819,.137],[.903,.183],[.954,.093],[.84,.08],[.904,.077],[.955,.019],[.992,.306]];
const pointsCorner=[[.002,.015],[.004,.013],[.015,.013],[.017,.011],[.02,.013],[.022,.008],[.019,.003],[.005,.002],[.011,.005],[.029,.001],[.038,.003],[.041,.011],[.049,.011],[.03,.007],[.007,.054],[.009,.052],[.015,.056],[.019,.061],[.006,.072],[.009,.07],[.013,.067],[.02,.067],[.01,.082],[.004,.088],[.002,.099],[.008,.099],[.012,.1],[.051,.075],[.055,.08],[.058,.081],[.064,.082],[.068,.09],[.075,.087],[.078,.087],[.035,.096],[.038,.099],[.048,.095],[.06,.105],[.044,.116],[.053,.12],[.068,.114],[.077,.105],[.08,.108],[.097,.11],[.1,.112],[.106,.118],[.107,.121],[.002,.04],[.006,.037],[.02,.027],[.026,.027],[.033,.026],[.043,.026],[.046,.041],[.053,.052],[.055,.059],[.127,.148],[.129,.144],[.136,.175],[.135,.17],[.146,.169],[.095,.159],[.097,.152],[.028,.323],[.031,.331],[.035,.3],[.038,.302],[.037,.292],[.042,.291]];
const points=pointsTop.concat(pointsMiddle,pointsLow,pointsCorner);
const black='#000',fill='#484848',font='"Liberation Sans"',fs=31;
const axisBase={axisLine:{show:true,onZero:false,lineStyle:{color:black,width:2.2}},axisTick:{show:true,length:6,lineStyle:{color:black,width:2},customValues:tickValues},axisLabel:{customValues:tickValues,color:black,fontFamily:font,fontSize:fs,formatter:v=>v.toFixed(2)},splitLine:{show:false}};
const hidden={show:false};
const n=binCountTop.length;
const topBars=binCountTop.map((c,i)=>[i/n,(i+1)/n,c]);
const rightBars=binCountRight.map((c,i)=>[i/n,(i+1)/n,c]);
const style={fill:fill,stroke:black,lineWidth:2};
const chart=echarts.init(document.getElementById('c'),null,{renderer:'canvas'});
chart.setOption({animation:false,backgroundColor:'#fff',
grid:[{left:133,top:144,width:1008,height:714},{left:178,top:6,width:918,height:131},{left:1151,top:176,width:184,height:651}],
xAxis:[
{type:'value',gridIndex:0,min:-0.049,max:1.049,name:'x1',nameLocation:'middle',nameGap:54,nameTextStyle:{color:black,fontFamily:font,fontSize:fs},...axisBase,axisLabel:{...axisBase.axisLabel,margin:14}},
{type:'value',gridIndex:1,min:0,max:1,...hidden},
{type:'value',gridIndex:2,min:0,max:100,...hidden}],
yAxis:[
{type:'value',gridIndex:0,min:-0.048,max:1.049,name:'x2',nameLocation:'middle',nameGap:87,nameTextStyle:{color:black,fontFamily:font,fontSize:fs},...axisBase,axisLabel:{...axisBase.axisLabel,margin:15,padding:[4,0,0,0]}},
{type:'value',gridIndex:1,min:0,max:100,...hidden},
{type:'value',gridIndex:2,min:0,max:1,...hidden}],
series:[
{type:'custom',xAxisIndex:1,yAxisIndex:1,data:topBars,silent:true,encode:{x:[0,1],y:2},renderItem:(p,api)=>{const a=api.coord([api.value(0),0]),b=api.coord([api.value(1),api.value(2)]);return {type:'rect',shape:{x:a[0],y:b[1],width:b[0]-a[0],height:a[1]-b[1]},style};}},
{type:'line',xAxisIndex:1,yAxisIndex:1,data:densityTop,smooth:0.4,showSymbol:false,lineStyle:{color:black,width:1.7},silent:true,z:5},
{type:'custom',xAxisIndex:2,yAxisIndex:2,data:rightBars,silent:true,encode:{y:[0,1],x:2},renderItem:(p,api)=>{const a=api.coord([0,api.value(0)]),b=api.coord([api.value(2),api.value(1)]);return {type:'rect',shape:{x:a[0],y:b[1],width:b[0]-a[0],height:a[1]-b[1]},style};}},
{type:'line',xAxisIndex:2,yAxisIndex:2,data:densityRight,smooth:0.4,showSymbol:false,lineStyle:{color:black,width:1.7},silent:true,z:5},
{type:'scatter',xAxisIndex:0,yAxisIndex:0,data:points,symbolSize:4,itemStyle:{color:black,opacity:1},silent:true}
]});
</script></body></html>
